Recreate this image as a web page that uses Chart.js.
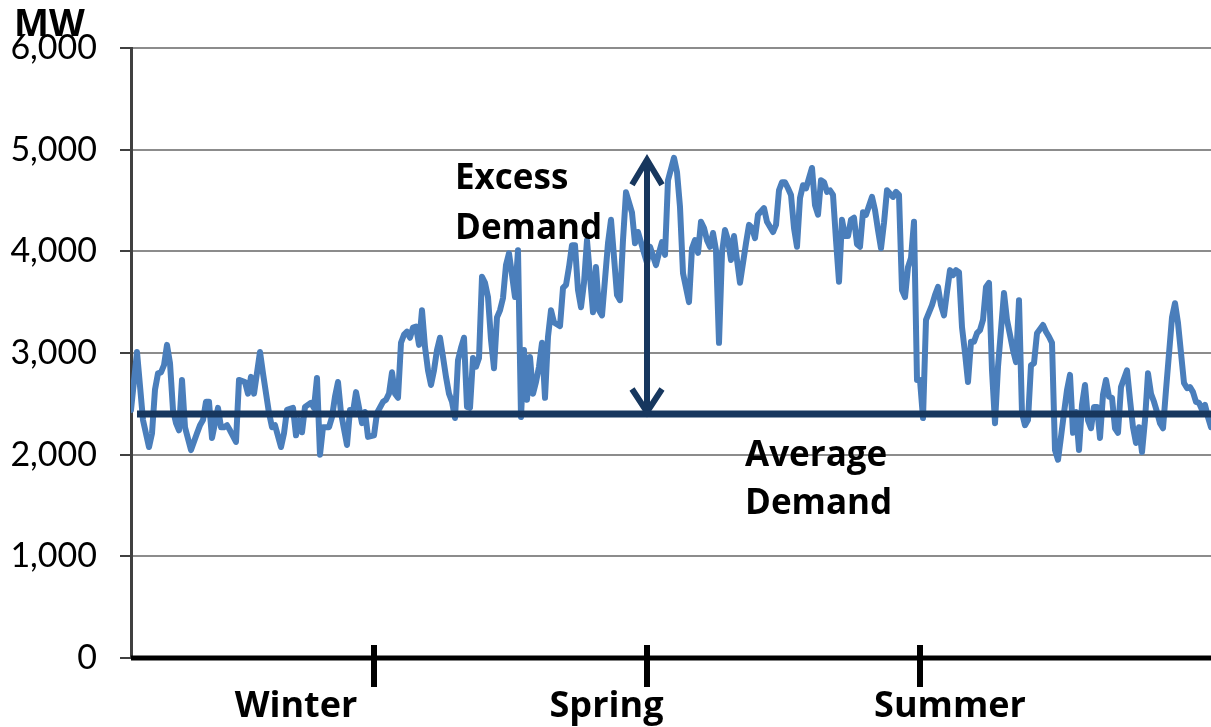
<!DOCTYPE html>
<html>
<head>
<meta charset="utf-8">
<title>Electricity demand by season</title>
<script src="https://cdn.jsdelivr.net/npm/chart.js@4.4.1/dist/chart.umd.min.js"></script>
<style>
  html, body { margin: 0; padding: 0; background: #ffffff; }
  canvas { display: block; }
</style>
</head>
<body>
<canvas id="demand" width="1211" height="727"></canvas>
<script>
// Day of the period (0 = first day shown)
const days = [
  0, 2, 4, 6, 7, 8, 9, 10, 11, 12,
  13, 14, 15, 16, 17, 18, 20, 22, 23, 24,
  25, 26, 27, 28, 29, 30, 31, 32, 33, 35,
  36, 38, 39, 40, 41, 43, 44, 46, 47, 48,
  50, 51, 52, 54, 55, 56, 57, 58, 60, 61,
  62, 63, 64, 66, 67, 68, 69, 70, 72, 73,
  74, 75, 77, 78, 79, 81, 82, 84, 85, 86,
  87, 88, 89, 90, 91, 92, 93, 94, 95, 96,
  97, 98, 99, 100, 101, 102, 103, 104, 105, 106,
  107, 108, 109, 110, 111, 112, 113, 114, 115, 116,
  117, 118, 119, 120, 121, 122, 123, 124, 125, 126,
  127, 128, 129, 130, 131, 132, 133, 134, 135, 136,
  137, 138, 139, 140, 141, 143, 144, 145, 146, 147,
  148, 149, 150, 151, 152, 154, 155, 156, 157, 159,
  160, 161, 162, 163, 164, 165, 167, 168, 169, 171,
  172, 173, 175, 176, 177, 178, 179, 181, 182, 183,
  184, 186, 187, 188, 189, 190, 191, 192, 193, 194,
  195, 196, 197, 198, 199, 200, 201, 202, 203, 205,
  206, 207, 208, 209, 211, 212, 214, 215, 216, 217,
  218, 219, 220, 221, 222, 223, 224, 225, 226, 227,
  228, 229, 230, 231, 232, 233, 234, 235, 236, 237,
  238, 239, 240, 241, 242, 243, 244, 245, 247, 248,
  249, 250, 251, 252, 254, 255, 256, 257, 258, 259,
  260, 261, 262, 263, 264, 265, 267, 268, 269, 270,
  271, 272, 273, 274, 275, 276, 277, 278, 279, 280,
  281, 282, 283, 284, 285, 286, 287, 288, 289, 291,
  292, 294, 295, 296, 297, 298, 299, 300, 301, 302,
  304, 305, 306, 307, 308, 309, 310, 311, 312, 313,
  314, 315, 316, 317, 318, 319, 320, 321, 322, 323,
  324, 325, 326, 327, 328, 329, 330, 332, 333, 334,
  335, 336, 337, 338, 339, 340, 341, 342, 343, 344,
  345, 347, 348, 349, 351, 352, 353, 354, 355, 356,
  357, 358, 359, 360
];

// Daily demand, MW
const demandMW = [
  2440, 3010, 2340, 2075, 2210, 2640, 2800, 2810, 2880, 3080,
  2900, 2440, 2310, 2240, 2735, 2270, 2045, 2210, 2290, 2340,
  2520, 2520, 2165, 2310, 2460, 2270, 2270, 2290, 2240, 2125,
  2735, 2715, 2600, 2765, 2600, 3010, 2800, 2410, 2270, 2290,
  2075, 2210, 2440, 2460, 2190, 2340, 2220, 2470, 2510, 2460,
  2755, 2000, 2270, 2270, 2370, 2570, 2715, 2410, 2095, 2440,
  2420, 2615, 2310, 2420, 2175, 2190, 2410, 2520, 2540, 2600,
  2810, 2600, 2560, 3100, 3180, 3210, 3150, 3250, 3260, 3080,
  3420, 3060, 2830, 2685, 2830, 3030, 3150, 2960, 2765, 2600,
  2520, 2360, 2930, 3050, 3150, 2470, 2460, 2950, 2865, 2950,
  3750, 3690, 3550, 3130, 2850, 3350, 3420, 3540, 3865, 3980,
  3770, 3550, 4010, 2370, 3030, 2540, 2960, 2600, 2715, 2865,
  3100, 2560, 3160, 3420, 3300, 3265, 3640, 3670, 3845, 4060,
  4060, 3620, 3450, 3690, 4110, 3400, 3845, 3420, 3370, 4080,
  4310, 3945, 3570, 3520, 4110, 4580, 4380, 4080, 4190, 3985,
  3885, 4045, 3865, 3985, 4090, 3965, 4700, 4920, 4780, 4435,
  3785, 3500, 4030, 4110, 3985, 4290, 4230, 4110, 4045, 4180,
  4010, 3100, 3985, 4210, 4110, 3915, 4150, 3915, 3690, 4080,
  4260, 4230, 4130, 4360, 4425, 4290, 4190, 4260, 4600, 4680,
  4680, 4620, 4555, 4230, 4045, 4525, 4650, 4620, 4720, 4820,
  4455, 4360, 4700, 4680, 4585, 4600, 4555, 4110, 3700, 4310,
  4150, 4150, 4310, 4330, 4070, 4045, 4385, 4360, 4535, 4405,
  4210, 4030, 4280, 4600, 4535, 4585, 4555, 3620, 3550, 3845,
  3935, 4290, 2735, 2735, 2360, 3325, 3470, 3570, 3650, 3470,
  3370, 3600, 3815, 3765, 3815, 3795, 3255, 3000, 2715, 3110,
  3110, 3195, 3225, 3325, 3650, 3690, 2830, 2310, 2865, 3590,
  3325, 3030, 2910, 3520, 2410, 2290, 2340, 2880, 2900, 3195,
  3275, 3210, 3160, 3100, 2045, 1950, 2175, 2410, 2635, 2785,
  2215, 2420, 2045, 2490, 2685, 2340, 2260, 2470, 2470, 2165,
  2590, 2735, 2570, 2560, 2260, 2215, 2665, 2830, 2540, 2270,
  2115, 2270, 2025, 2340, 2800, 2600, 2520, 2420, 2310, 2260,
  2635, 3350, 3490, 3295, 2705, 2655, 2665, 2615, 2520, 2510,
  2440, 2490, 2370, 2270
];

// Reference level drawn across the year
const averageDemandMW = 2400;

// Season boundaries (day) and season names with the day each name is centred on
const seasonBreaks = [81, 172, 263];
const seasonNames = ['Winter', 'Spring', 'Summer'];
const seasonLabelDays = [55, 158.5, 273];

// Value-axis ticks
const yTicks = [0, 1000, 2000, 3000, 4000, 5000, 6000];

const NAVY = '#17375E';
const BLUE = '#4A7EBB';
const TICK_FONT = 'Lato, "Open Sans", sans-serif';
const LABEL_FONT = '"Open Sans", Lato, sans-serif';

const seriesPoints = days.map((d, i) => ({ x: d, y: demandMW[i] }));
const averagePoints = [
  { x: 2, y: averageDemandMW },
  { x: days[days.length - 1], y: averageDemandMW }
];

// Axis line, season ticks/labels, unit label, arrow and annotations
const decorations = {
  id: 'decorations',
  afterDraw(chart) {
    const { ctx, chartArea } = chart;
    const xs = chart.scales.x;
    const ys = chart.scales.y;
    const y0 = ys.getPixelForValue(0);

    ctx.save();

    // horizontal time axis
    ctx.strokeStyle = '#000000';
    ctx.lineWidth = 5;
    ctx.beginPath();
    ctx.moveTo(chartArea.left, y0);
    ctx.lineTo(chartArea.right, y0);
    ctx.stroke();

    // season boundary ticks crossing the axis
    ctx.lineWidth = 6;
    seasonBreaks.forEach(d => {
      const px = Math.round(xs.getPixelForValue(d));
      ctx.beginPath();
      ctx.moveTo(px, y0 - 13);
      ctx.lineTo(px, y0 + 29);
      ctx.stroke();
    });

    // season names
    ctx.fillStyle = '#000000';
    ctx.font = 'bold 36px ' + LABEL_FONT;
    ctx.textAlign = 'center';
    ctx.textBaseline = 'alphabetic';
    seasonNames.forEach((name, i) => {
      ctx.fillText(name, xs.getPixelForValue(seasonLabelDays[i]), y0 + 59);
    });

    // unit label
    ctx.textAlign = 'left';
    ctx.font = 'bold 37px ' + LABEL_FONT;
    ctx.fillText('MW', 14, 36);

    // double-headed arrow from the average level up to the peak
    const peak = Math.max(...demandMW);
    const ax = Math.round(xs.getPixelForValue(seasonBreaks[1]));
    const aTop = ys.getPixelForValue(peak);
    const aBot = ys.getPixelForValue(averageDemandMW);
    ctx.strokeStyle = NAVY;
    ctx.lineWidth = 6;
    ctx.lineJoin = 'miter';
    ctx.beginPath();
    ctx.moveTo(ax, aTop + 2);
    ctx.lineTo(ax, aBot - 2);
    ctx.stroke();
    ctx.beginPath();
    ctx.moveTo(ax - 15, aTop + 27);
    ctx.lineTo(ax, aTop + 2);
    ctx.lineTo(ax + 15, aTop + 27);
    ctx.stroke();
    ctx.beginPath();
    ctx.moveTo(ax - 15, aBot - 25);
    ctx.lineTo(ax, aBot - 2);
    ctx.lineTo(ax + 15, aBot - 25);
    ctx.stroke();

    // annotations
    ctx.fillStyle = '#000000';
    ctx.font = 'bold 35px ' + LABEL_FONT;
    ctx.textAlign = 'left';
    ctx.fillText('Excess', 455, 189);
    ctx.fillText('Demand', 455, 239);
    ctx.fillText('Average', 745, 466);
    ctx.fillText('Demand', 745, 514);

    ctx.restore();
  }
};

new Chart(document.getElementById('demand'), {
  type: 'line',
  data: {
    datasets: [
      {
        label: 'Average Demand',
        data: averagePoints,
        borderColor: NAVY,
        borderWidth: 7,
        pointRadius: 0,
        order: 0
      },
      {
        label: 'Demand',
        data: seriesPoints,
        borderColor: BLUE,
        borderWidth: 6,
        borderJoinStyle: 'round',
        borderCapStyle: 'round',
        pointRadius: 0,
        tension: 0,
        order: 1
      }
    ]
  },
  options: {
    responsive: false,
    animation: false,
    events: [],
    layout: { padding: { top: 48, right: 0, bottom: 0, left: 0 } },
    plugins: {
      legend: { display: false },
      tooltip: { enabled: false }
    },
    scales: {
      x: {
        type: 'linear',
        min: 0,
        max: 360,
        grid: { display: false },
        border: { display: false },
        ticks: { display: false },
        afterFit(scale) { scale.height = 69; }
      },
      y: {
        min: 0,
        max: 6000,
        afterBuildTicks(scale) { scale.ticks = yTicks.map(v => ({ value: v })); },
        ticks: {
          color: '#000000',
          font: { family: TICK_FONT, size: 34 },
          padding: 23,
          callback: v => v.toLocaleString('en-US')
        },
        grid: {
          color: '#8C8C8C',
          lineWidth: 2,
          tickColor: '#404040',
          tickLength: 11
        },
        border: { color: '#404040', width: 3 },
        afterFit(scale) { scale.width = 131; }
      }
    }
  },
  plugins: [decorations]
});
</script>
</body>
</html>
